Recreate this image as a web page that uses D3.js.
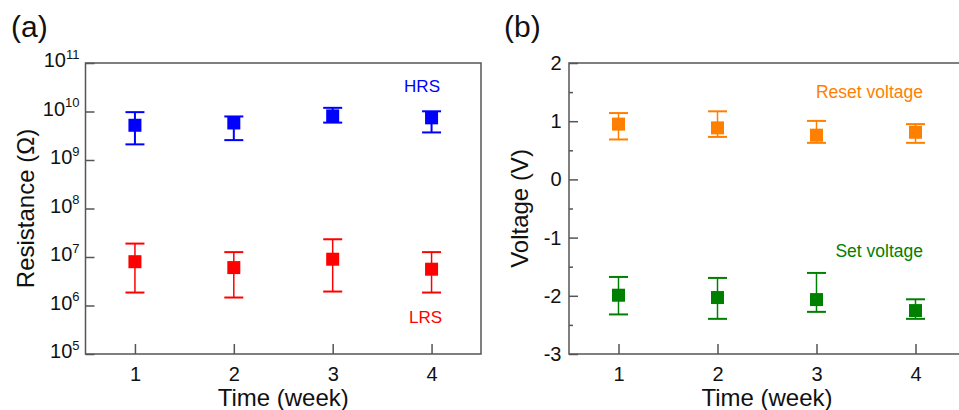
<!DOCTYPE html>
<html>
<head>
<meta charset="utf-8">
<script src="https://cdn.jsdelivr.net/npm/d3@7"></script>
<style>
  body { margin: 0; background: #fff; }
  svg { display: block; font-family: "Liberation Sans", Arial, sans-serif; }
</style>
</head>
<body>
<div id="chart"></div>
<script>
// data
const weeks = [1, 2, 3, 4];

// (a) resistance, ohm
const hrsMean = [5.2e9, 5.8e9, 8.1e9, 7.4e9];
const hrsHigh = [9.7e9, 7.9e9, 1.19e10, 1.01e10];
const hrsLow  = [2.1e9, 2.57e9, 5.9e9, 3.7e9];
const lrsMean = [8.0e6, 6.05e6, 9.0e6, 5.6e6];
const lrsHigh = [1.89e7, 1.26e7, 2.32e7, 1.26e7];
const lrsLow  = [1.85e6, 1.46e6, 1.94e6, 1.85e6];
const resTicks = [1e5, 1e6, 1e7, 1e8, 1e9, 1e10, 1e11];

// (b) voltage, V
const resetMean = [0.95, 0.885, 0.76, 0.81];
const resetHigh = [1.14, 1.17, 1.005, 0.95];
const resetLow  = [0.686, 0.73, 0.628, 0.628];
const setMean = [-1.99, -2.03, -2.065, -2.254];
const setHigh = [-1.676, -1.693, -1.607, -2.06];
const setLow  = [-2.32, -2.396, -2.276, -2.396];
const voltTicks = [-3, -2, -1, 0, 1, 2];
const voltMinor = [-2.5, -1.5, -0.5, 0.5, 1.5];

const width = 959, height = 410;
const frameColor = "#555";

const svg = d3.select("#chart").append("svg")
    .attr("width", width)
    .attr("height", height);

// 畫一組誤差棒 + 方塊
function drawSeries(g, x, y, mean, hi, lo, color, lw) {
    const rows = weeks.map((w, i) => ({ w, m: mean[i], hi: hi[i], lo: lo[i] }));
    const s = g.append("g").selectAll("g").data(rows).join("g");
    s.append("line")
        .attr("x1", d => x(d.w)).attr("x2", d => x(d.w))
        .attr("y1", d => y(d.hi)).attr("y2", d => y(d.lo))
        .attr("stroke", color).attr("stroke-width", lw);
    [d => d.hi, d => d.lo].forEach(f => {
        s.append("line")
            .attr("x1", d => x(d.w) - 9.5).attr("x2", d => x(d.w) + 9.5)
            .attr("y1", d => y(f(d))).attr("y2", d => y(f(d)))
            .attr("stroke", color).attr("stroke-width", 2);
    });
    s.append("rect")
        .attr("x", d => x(d.w) - 6.5).attr("y", d => y(d.m) - 6.5)
        .attr("width", 13).attr("height", 13)
        .attr("fill", color);
}

function frame(x, y) {
    const [x0, x1] = x.range();
    const [y1, y0] = y.range();
    svg.append("rect")
        .attr("x", x0).attr("y", y0)
        .attr("width", x1 - x0).attr("height", y1 - y0)
        .attr("fill", "none").attr("stroke", frameColor).attr("stroke-width", 1.5);
}

function xAxis(x, y) {
    const g = svg.append("g")
        .attr("transform", `translate(0,${y.range()[0]})`)
        .call(d3.axisBottom(x).tickValues(weeks).tickSize(-10).tickPadding(12.5).tickFormat(d => String(d)));
    g.select(".domain").remove();
    g.selectAll("line").attr("stroke", frameColor).attr("stroke-width", 1.5);
    g.selectAll("text").attr("font-size", 20).attr("font-family", null).attr("fill", "#111");
    const [x0, x1] = x.range();
    svg.append("text")
        .attr("x", (x0 + Math.min(x1, width)) / 2 + (x1 > width ? 3 : 0))
        .attr("y", 406)
        .attr("text-anchor", "middle")
        .attr("font-size", 24)
        .attr("fill", "#111")
        .text("Time (week)");
}

// ---------- (a) ----------
const xA = d3.scaleLinear().domain([0.5, 4.5]).range([85.5, 481]);
const yA = d3.scaleLog().domain([1e5, 1e11]).range([354, 63]);

const gAy = svg.append("g")
    .attr("transform", `translate(${xA.range()[0]},0)`)
    .call(d3.axisLeft(yA).tickValues(resTicks).tickSize(-9).tickPadding(6).tickFormat(""));
gAy.select(".domain").remove();
gAy.selectAll("line").attr("stroke", frameColor).attr("stroke-width", 1.5);
gAy.selectAll(".tick text").each(function (d) {
    const t = d3.select(this).attr("font-family", null).attr("fill", "#111").attr("dy", "0.36em");
    t.append("tspan").attr("font-size", 20).text("10");
    t.append("tspan").attr("font-size", 13).attr("dy", "-0.65em").text(Math.round(Math.log10(d)));
});

frame(xA, yA);
xAxis(xA, yA);

svg.append("text")
    .attr("transform", `translate(34,${(yA.range()[0] + yA.range()[1]) / 2}) rotate(-90)`)
    .attr("text-anchor", "middle").attr("font-size", 24).attr("fill", "#111")
    .text("Resistance (Ω)");

const gA = svg.append("g");
drawSeries(gA, xA, yA, hrsMean, hrsHigh, hrsLow, "#0000ff", 2);
drawSeries(gA, xA, yA, lrsMean, lrsHigh, lrsLow, "#ff0000", 1.5);

svg.append("text").attr("x", 440).attr("y", 92).attr("text-anchor", "end")
    .attr("font-size", 17).attr("fill", "#0000ff").text("HRS");
svg.append("text").attr("x", 442).attr("y", 323).attr("text-anchor", "end")
    .attr("font-size", 17).attr("fill", "#ff0000").text("LRS");

svg.append("text").attr("x", 11).attr("y", 37).attr("font-size", 30).attr("fill", "#111").text("(a)");

// ---------- (b) ----------
const xB = d3.scaleLinear().domain([0.5, 4.5]).range([569, 965]);
const yB = d3.scaleLinear().domain([-3, 2]).range([354, 63]);

const gBy = svg.append("g")
    .attr("transform", `translate(${xB.range()[0]},0)`)
    .call(d3.axisLeft(yB).tickValues(voltTicks).tickSize(-9).tickPadding(7.5).tickFormat(d => String(d)));
gBy.select(".domain").remove();
gBy.selectAll("line").attr("stroke", frameColor).attr("stroke-width", 1.5);
gBy.selectAll("text").attr("font-size", 20).attr("font-family", null).attr("fill", "#111");

const gByMinor = svg.append("g")
    .attr("transform", `translate(${xB.range()[0]},0)`)
    .call(d3.axisLeft(yB).tickValues(voltMinor).tickSize(-4).tickFormat(""));
gByMinor.select(".domain").remove();
gByMinor.selectAll("line").attr("stroke", frameColor).attr("stroke-width", 1.5);

frame(xB, yB);
xAxis(xB, yB);

svg.append("text")
    .attr("transform", `translate(528,${(yB.range()[0] + yB.range()[1]) / 2}) rotate(-90)`)
    .attr("text-anchor", "middle").attr("font-size", 24).attr("fill", "#111")
    .text("Voltage (V)");

const gB = svg.append("g");
drawSeries(gB, xB, yB, resetMean, resetHigh, resetLow, "#ff8000", 1.5);
drawSeries(gB, xB, yB, setMean, setHigh, setLow, "#008000", 1.5);

svg.append("text").attr("x", 923).attr("y", 98).attr("text-anchor", "end")
    .attr("font-size", 17.5).attr("fill", "#ff8000").text("Reset voltage");
svg.append("text").attr("x", 923).attr("y", 257).attr("text-anchor", "end")
    .attr("font-size", 17.5).attr("fill", "#008000").text("Set voltage");

svg.append("text").attr("x", 504).attr("y", 37).attr("font-size", 30).attr("fill", "#111").text("(b)");
</script>
</body>
</html>
